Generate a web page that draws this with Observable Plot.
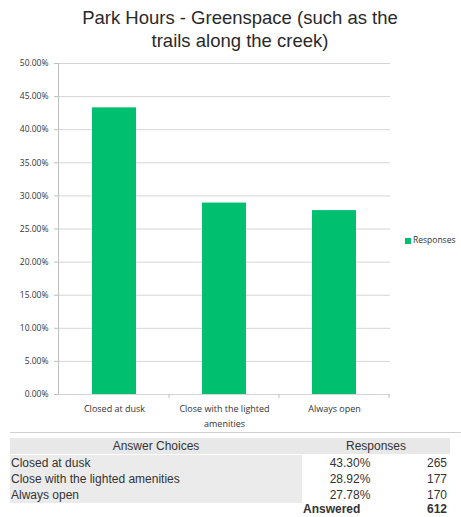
<!DOCTYPE html>
<html>
<head>
<meta charset="utf-8">
<script src="https://cdn.jsdelivr.net/npm/d3@7"></script>
<script src="https://cdn.jsdelivr.net/npm/@observablehq/plot@0.6"></script>
<style>
  html, body { margin: 0; padding: 0; background: #fff; overflow: hidden; }
  #page { position: relative; width: 461px; height: 517px; font-family: "Liberation Sans", Arial, sans-serif; }
  .abs { position: absolute; white-space: nowrap; }
  #title { position: absolute; left: 0; top: 6px; width: 480px; text-align: center; font-size: 18.5px; line-height: 23px; color: #2a2a2a; }
  #chart { position: absolute; left: 0; top: 50px; }
  .cell { position: absolute; font-size: 12px; color: #333; line-height: 14px; white-space: nowrap; }
</style>
</head>
<body>
<div id="page">
  <div id="chart"></div>
  <div id="title">Park Hours - Greenspace (such as the<br>trails along the creek)</div>
</div>
<script>
const titleText = "Park Hours - Greenspace (such as the trails along the creek)";
const categories = ["Closed at dusk", "Close with the lighted amenities", "Always open"];
const categoryLabels = ["Closed at dusk", "Close with the lighted\namenities", "Always open"];
const percents = [0.4330, 0.2892, 0.2778];
const counts = [265, 177, 170];
const answered = 612;
const yTicks = [0, 0.05, 0.10, 0.15, 0.20, 0.25, 0.30, 0.35, 0.40, 0.45, 0.50];
const seriesName = "Responses";
const barColor = "#00bf6f";

const data = categories.map((c, i) => ({category: c, value: percents[i]}));

const catTicks = (index, scales, values, dimensions) => {
  const x = scales.x, y = scales.y;
  const step = x(categories[1]) - x(categories[0]);
  const g = d3.create("svg:g");
  categories.forEach(c => {
    const bx = x(c) + step * 0.7;
    g.append("line").attr("x1", bx).attr("x2", bx)
      .attr("y1", y(0)).attr("y2", y(0) + 4)
      .attr("stroke", "#bfbfbf");
  });
  return g.node();
};

const chart = Plot.plot({
  width: 461,
  height: 380,
  marginTop: 13,
  marginBottom: 36,
  marginLeft: 58,
  marginRight: 71,
  style: {fontFamily: "'Open Sans', sans-serif", background: "transparent", overflow: "visible"},
  x: {domain: categories, paddingInner: 0.6, paddingOuter: 0.3, label: null},
  y: {domain: [0, 0.5], label: null},
  marks: [
    Plot.gridY(yTicks, {stroke: "#d4d4d4", strokeOpacity: 1}),
    Plot.barY(data, {x: "category", y: "value", fill: barColor}),
    Plot.axisY(yTicks, {
      tickFormat: d => (d * 100).toFixed(2) + "%",
      tickSize: 4, tickPadding: 6, stroke: "#bfbfbf",
      fontSize: 8.5, fill: "#333", label: null
    }),
    Plot.frame({anchor: "left", stroke: "#bfbfbf"}),
    Plot.axisX({
      tickSize: 0, tickPadding: 7,
      tickFormat: d => categoryLabels[categories.indexOf(d)],
      fontSize: 9, fill: "#333", label: null, lineHeight: 1.65
    }),
    catTicks
  ]
});
document.getElementById("chart").appendChild(chart);

const page = document.getElementById("page");
function add(cls, text, css) {
  const d = document.createElement("div");
  d.className = cls;
  d.textContent = text;
  Object.assign(d.style, css);
  page.appendChild(d);
  return d;
}

// legend
add("abs", "", {left: "405px", top: "238px", width: "6px", height: "6px", background: barColor});
add("abs", seriesName, {left: "413px", top: "234px", fontSize: "8.5px", color: "#333", fontFamily: "'Open Sans', sans-serif"});

// table
add("abs", "", {left: "10px", top: "432px", width: "451px", height: "1px", background: "#d0d0d0"});
add("abs", "", {left: "10px", top: "438px", width: "440px", height: "16px", background: "#e8e8e8"});
add("abs", "", {left: "10px", top: "455px", width: "292px", height: "48px", background: "#ebebeb"});
add("cell", "Answer Choices", {left: "10px", top: "439px", width: "292px", textAlign: "center"});
add("cell", seriesName, {left: "302px", top: "439px", width: "148px", textAlign: "center"});
categories.forEach((c, i) => {
  const top = 456 + i * 16;
  add("cell", c, {left: "11px", top: top + "px"});
  add("cell", (percents[i] * 100).toFixed(2) + "%", {left: "300px", top: top + "px", width: "100px", textAlign: "center"});
  add("cell", String(counts[i]), {left: "400px", top: top + "px", width: "47px", textAlign: "right"});
});
add("cell", "Answered", {left: "303px", top: "502px", fontWeight: "bold"});
add("cell", String(answered), {left: "400px", top: "502px", width: "47px", textAlign: "right", fontWeight: "bold"});
</script>
</body>
</html>
